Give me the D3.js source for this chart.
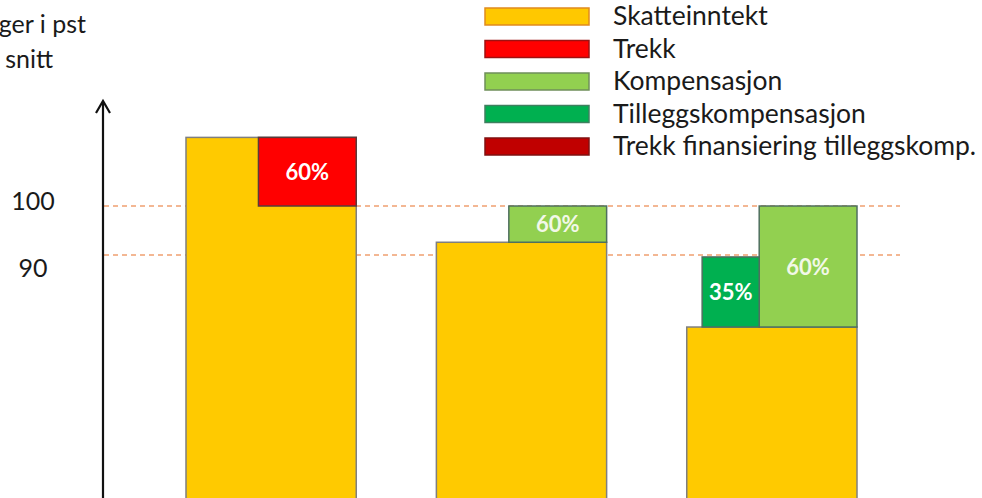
<!DOCTYPE html>
<html>
<head>
<meta charset="utf-8">
<script src="https://cdn.jsdelivr.net/npm/d3@7"></script>
<style>
  body { margin: 0; background: #fff; }
  svg { display: block; font-family: Lato, "Open Sans", sans-serif; }
</style>
</head>
<body>
<svg width="982" height="498"></svg>
<script>
// three cases, all values in pst of average
const cases = ["A", "B", "C"];
const skatt = [114, 92.6, 75.3];         // yellow base bars
const trekkTop = [114, null, null];      // red: from 100 up to this
const kompTop = [null, 100, 100];        // light green: from skatt up to this
const tilleggTop = [null, null, 89.6];   // dark green: from skatt up to this
const trekkPct = [60, null, null];
const kompPct = [null, 60, 60];
const tilleggPct = [null, null, 35];
const refLines = [100, 90];
const tickLabels = ["100", "90"];

const legendNames = ["Skatteinntekt", "Trekk", "Kompensasjon", "Tilleggskompensasjon", "Trekk finansiering tilleggskomp."];
const legendFill = ["#FFC800", "#FF0000", "#92D050", "#00B050", "#C00000"];
const legendStroke = ["#E08A1E", "#A01010", "#6F8F5A", "#3F7F5F", "#801010"];

const svg = d3.select("svg");

const x = d3.scaleBand().domain(cases).range([186, 857]).paddingInner(0.32).paddingOuter(0);
const y = d3.scaleLinear().domain([0, 120]).range([696, 108]);
// width of a part-segment follows its percentage
const w = d3.scaleLinear().domain([0, 100]).range([0, 163]);

// dashed reference lines (behind bars)
svg.selectAll("line.ref")
  .data(refLines)
  .enter().append("line")
  .attr("x1", 104).attr("x2", 900)
  .attr("y1", d => y(d)).attr("y2", d => y(d))
  .attr("stroke", "#F0A070")
  .attr("stroke-width", 1.7)
  .attr("stroke-dasharray", "5,4");

// tick labels
svg.selectAll("text.tick")
  .data(refLines)
  .enter().append("text")
  .attr("x", 33)
  .attr("y", (d, i) => i == 0 ? y(d) + 4 : y(d) + 22)
  .attr("text-anchor", "middle")
  .attr("font-size", 25)
  .attr("fill", "#1a1a1a")
  .text((d, i) => tickLabels[i]);

// y axis with arrow head
svg.append("line")
  .attr("x1", 103).attr("x2", 103)
  .attr("y1", 498).attr("y2", 102)
  .attr("stroke", "#111")
  .attr("stroke-width", 2.2);
svg.append("path")
  .attr("d", "M96,113 L103,101 L110,113")
  .attr("fill", "none")
  .attr("stroke", "#111")
  .attr("stroke-width", 2.2);

const barStroke = "#7F7F7F";

// yellow base bars
svg.selectAll("rect.skatt")
  .data(skatt)
  .enter().append("rect")
  .attr("x", (d, i) => x(cases[i]))
  .attr("width", x.bandwidth())
  .attr("y", d => y(d))
  .attr("height", d => y(0) - y(d))
  .attr("fill", "#FFCA00")
  .attr("stroke", barStroke)
  .attr("stroke-width", 1.5);

function right(i) { return x(cases[i]) + x.bandwidth(); }

// part segments sitting on the right side of each bar
const segs = [];
trekkTop.forEach((t, i) => { if (t != null) segs.push({i, lo: 100, hi: t, pct: trekkPct[i], fill: "#FF0000", left: right(i) - w(trekkPct[i])}); });
kompTop.forEach((t, i) => { if (t != null) segs.push({i, lo: skatt[i], hi: t, pct: kompPct[i], fill: "#92D050", left: right(i) - w(kompPct[i])}); });
tilleggTop.forEach((t, i) => { if (t != null) segs.push({i, lo: skatt[i], hi: t, pct: tilleggPct[i], fill: "#00B050", left: right(i) - w(kompPct[i]) - w(tilleggPct[i])}); });

svg.selectAll("rect.seg")
  .data(segs)
  .enter().append("rect")
  .attr("x", d => d.left)
  .attr("width", d => w(d.pct))
  .attr("y", d => y(d.hi))
  .attr("height", d => y(d.lo) - y(d.hi))
  .attr("fill", d => d.fill)
  .attr("stroke", d => d.fill == "#FF0000" ? "#5A3A3A" : "#4F6F5F")
  .attr("stroke-width", 1.5);

svg.selectAll("text.seg")
  .data(segs)
  .enter().append("text")
  .attr("x", d => d.left + w(d.pct) / 2)
  .attr("y", d => (y(d.hi) + y(d.lo)) / 2 + 8)
  .attr("text-anchor", "middle")
  .attr("font-size", 22)
  .attr("font-weight", "bold")
  .attr("fill", d => d.fill == "#92D050" ? "#F2F8E8" : "#fff")
  .text(d => d.pct + "%");

// legend
const lg = svg.append("g").attr("transform", "translate(485,8)");
legendNames.forEach((name, i) => {
  lg.append("rect")
    .attr("x", 0).attr("y", i * 32.5)
    .attr("width", 104).attr("height", 17)
    .attr("fill", legendFill[i])
    .attr("stroke", legendStroke[i])
    .attr("stroke-width", 1.5);
  lg.append("text")
    .attr("x", 128).attr("y", i * 32.5 + 17)
    .attr("font-size", 26.5)
    .attr("fill", "#1a1a1a")
    .text(name);
});

// cut-off axis title at top left
svg.append("text").attr("x", 86).attr("y", 33).attr("text-anchor", "end")
  .attr("font-size", 25).attr("fill", "#1a1a1a").text("ger i pst");
svg.append("text").attr("x", 53).attr("y", 68).attr("text-anchor", "end")
  .attr("font-size", 25).attr("fill", "#1a1a1a").text("snitt");
</script>
</body>
</html>
